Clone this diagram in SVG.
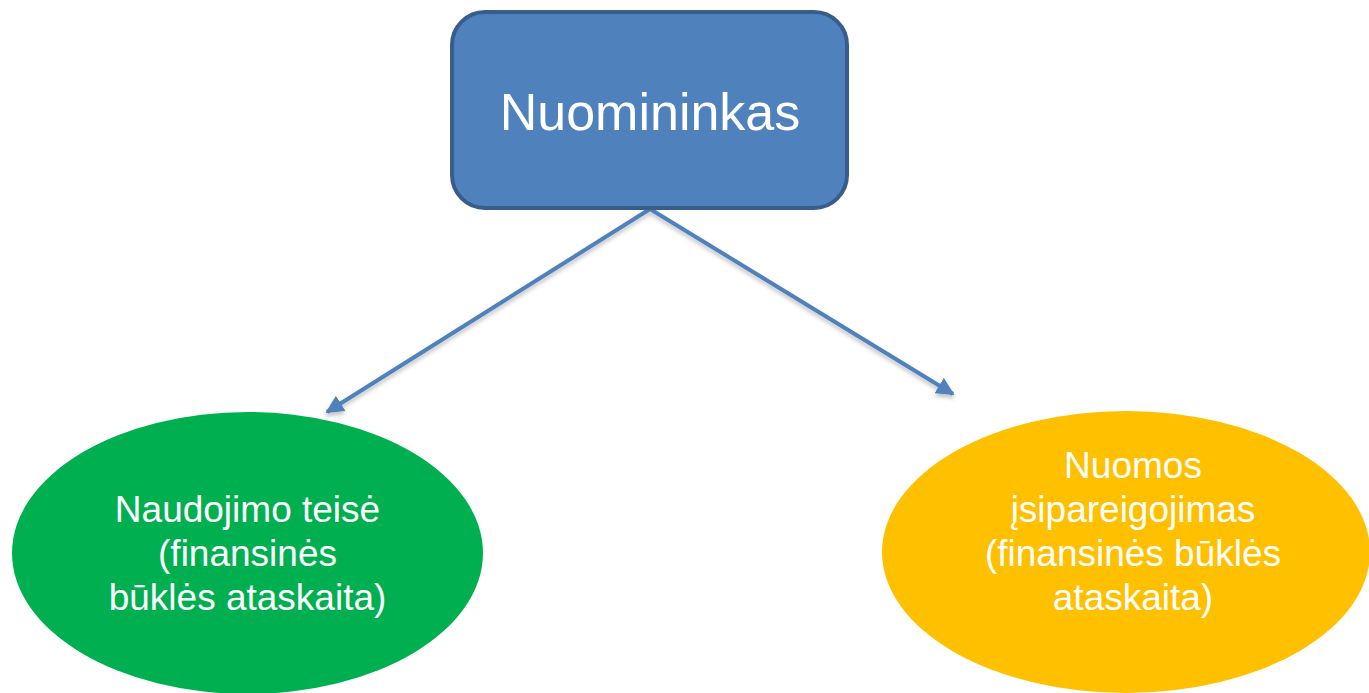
<svg xmlns="http://www.w3.org/2000/svg" width="1369" height="693" viewBox="0 0 1369 693">
  <style>
    .label { font-family: "Liberation Sans", Arial, sans-serif; fill: #FFFFFF; text-anchor: middle; }
    .title { font-size: 52px; }
    .body { font-size: 37px; }
    .link { stroke: #4F81BD; stroke-width: 4; fill: none; marker-end: url(#head); filter: url(#shade); }
  </style>
  <defs>
    <marker id="head" viewBox="0 0 10 10" refX="9" refY="5" markerWidth="4.5" markerHeight="4.5" orient="auto" markerUnits="strokeWidth">
      <path d="M0,0 L10,5 L0,10 z" fill="#4F81BD"/>
    </marker>
    <filter id="shade" x="-10%" y="-10%" width="120%" height="130%">
      <feDropShadow dx="0" dy="3" stdDeviation="2" flood-color="#000000" flood-opacity="0.25"/>
    </filter>
  </defs>

  <!-- connectors -->
  <g id="connectors">
    <line class="link" x1="650" y1="209" x2="327" y2="412"/>
    <line class="link" x1="650" y1="209" x2="953" y2="394"/>
  </g>

  <!-- top node -->
  <g id="node-nuomininkas">
    <rect x="452" y="12" width="395" height="196" rx="33" ry="33" fill="#4F81BD" stroke="#385D8A" stroke-width="4"/>
    <text class="label title" x="650" y="130">Nuomininkas</text>
  </g>

  <!-- left node -->
  <g id="node-naudojimo-teise">
    <ellipse cx="247.5" cy="553" rx="235.5" ry="141" fill="#00B050"/>
    <text class="label body" x="247.5" y="522">Naudojimo teisė</text>
    <text class="label body" x="247.5" y="566">(finansinės</text>
    <text class="label body" x="247.5" y="610">būklės ataskaita)</text>
  </g>

  <!-- right node -->
  <g id="node-nuomos-isipareigojimas">
    <ellipse cx="1126" cy="552" rx="244" ry="141" fill="#FFC000"/>
    <text class="label body" x="1133" y="478">Nuomos</text>
    <text class="label body" x="1133" y="522">įsipareigojimas</text>
    <text class="label body" x="1133" y="566">(finansinės būklės</text>
    <text class="label body" x="1133" y="610">ataskaita)</text>
  </g>
</svg>
